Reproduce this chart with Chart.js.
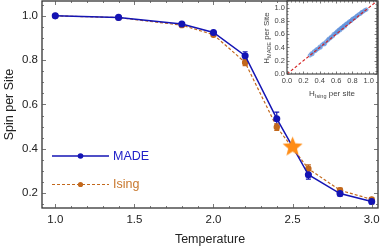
<!DOCTYPE html>
<html><head><meta charset="utf-8">
<script src="https://cdn.jsdelivr.net/npm/chart.js@4/dist/chart.umd.min.js"></script>
<style>
html,body{margin:0;padding:0;background:#fff;}
#wrap{position:relative;width:382px;height:249px;overflow:hidden;}
#main{position:absolute;left:0;top:0;}
#inset{position:absolute;left:250px;top:0;}
</style></head><body>
<div id="wrap"><canvas id="main" width="382" height="249"></canvas><canvas id="inset" width="132" height="100"></canvas></div>
<script>
// ---- data ----
const temperatures = [1.0, 1.4, 1.8, 2.0, 2.2, 2.4, 2.6, 2.8, 3.0];
const madeSpin  = [1.000, 0.993, 0.963, 0.925, 0.820, 0.536, 0.283, 0.198, 0.162];
const madeErr   = [0.002, 0.003, 0.005, 0.006, 0.018, 0.030, 0.020, 0.012, 0.010];
const isingSpin = [1.000, 0.992, 0.958, 0.915, 0.790, 0.498, 0.310, 0.213, 0.172];
const isingErr  = [0.002, 0.003, 0.005, 0.006, 0.015, 0.015, 0.018, 0.010, 0.008];
const criticalT = [2.5];
const criticalSpin = [0.408];
const xTicks = [1.0, 1.5, 2.0, 2.5, 3.0];
const yTicks = [0.2, 0.4, 0.6, 0.8, 1.0];
const seriesNames = ['MADE', 'Ising'];
// inset: energy per site, Ising vs MADE
const energyIsing = [0.28,0.30,0.31,0.33,0.35,0.36,0.38,0.40,0.41,0.43,0.45,0.46,0.48,0.50,0.51,0.53,0.54,0.56,0.57,0.59,0.60,0.61,0.62,0.63,0.64,0.65,0.66,0.67,0.68,0.69,0.70,0.71,0.72,0.73,0.75,0.76,0.78,0.79,0.80,0.82,0.83,0.85,0.86,0.88,0.90,0.91,0.93,0.95,0.97];
const energyMade  = [0.28,0.31,0.30,0.34,0.35,0.37,0.38,0.41,0.40,0.44,0.46,0.45,0.49,0.51,0.53,0.54,0.56,0.57,0.60,0.61,0.62,0.64,0.63,0.66,0.67,0.66,0.69,0.70,0.69,0.72,0.73,0.72,0.75,0.76,0.77,0.79,0.80,0.81,0.83,0.84,0.85,0.87,0.88,0.90,0.91,0.93,0.94,0.96,0.97];
const diagonal = [0, 1.1];
const insetTicks = [0.0, 0.2, 0.4, 0.6, 0.8, 1.0];

// ---- styles ----
const BLUE = '#1414b4', ORANGE = '#c2681c', STAR = '#ff8c14';
const FONT = "'Liberation Sans', Arial, sans-serif";

function makeStar(rOut, rIn, color){
  const s = Math.ceil(rOut*2+2);
  const c = document.createElement('canvas'); c.width = s; c.height = s;
  const g = c.getContext('2d'); g.fillStyle = color; g.beginPath();
  for (let i=0;i<10;i++){ const r = i%2 ? rIn : rOut; const a = -Math.PI/2 + i*Math.PI/5;
    g.lineTo(s/2 + r*Math.cos(a), s/2 + r*Math.sin(a)); }
  g.closePath(); g.fill(); return c;
}

const pts = (xs, ys) => xs.map((x,i)=>({x, y: ys[i]}));

const errorBars = {
  id: 'errorBars',
  beforeDatasetsDraw(chart){
    const {ctx, scales:{x, y}} = chart;
    chart.data.datasets.forEach(ds => {
      if (!ds.errors) return;
      ctx.save(); ctx.strokeStyle = ds.borderColor; ctx.lineWidth = 1.2;
      ds.data.forEach((p, i) => {
        const e = ds.errors[i]; const px = x.getPixelForValue(p.x);
        const y1 = y.getPixelForValue(p.y - e), y2 = y.getPixelForValue(p.y + e);
        if (Math.abs(y1-y2) < 3) return;
        ctx.beginPath(); ctx.moveTo(px, y1); ctx.lineTo(px, y2);
        ctx.moveTo(px-2.5, y1); ctx.lineTo(px+2.5, y1);
        ctx.moveTo(px-2.5, y2); ctx.lineTo(px+2.5, y2); ctx.stroke();
      });
      ctx.restore();
    });
  }
};

const frame = {
  id: 'frame',
  beforeDraw(chart, args, o){
    if (!o.fill) return;
    const {ctx, chartArea:a} = chart;
    ctx.save(); ctx.fillStyle = o.fill; ctx.fillRect(a.left, a.top, a.right-a.left, a.bottom-a.top); ctx.restore();
  },
  afterDraw(chart, args, o){
    const {ctx, chartArea:a, scales:{x, y}} = chart;
    ctx.save(); ctx.strokeStyle = o.color; ctx.lineWidth = o.width;
    ctx.strokeRect(a.left, a.top, a.right-a.left, a.bottom-a.top);
    ctx.lineWidth = 0.8; ctx.strokeStyle = o.tickColor;
    ctx.beginPath();
    const xMin = x.min, xMax = x.max, yMin = y.min, yMax = y.max;
    for (let k = Math.ceil(xMin/o.xMinor - 1e-6); k*o.xMinor <= xMax + 1e-9; k++){
      const v = k*o.xMinor; const major = Math.abs(v/o.xMajor - Math.round(v/o.xMajor)) < 1e-6;
      const L = major ? o.major : o.minor; const px = Math.round(x.getPixelForValue(v))+0.5;
      ctx.moveTo(px, a.bottom); ctx.lineTo(px, a.bottom - L);
      ctx.moveTo(px, a.top); ctx.lineTo(px, a.top + L);
    }
    for (let k = Math.ceil(yMin/o.yMinor - 1e-6); k*o.yMinor <= yMax + 1e-9; k++){
      const v = k*o.yMinor; const major = Math.abs(v/o.yMajor - Math.round(v/o.yMajor)) < 1e-6;
      const L = major ? o.major : o.minor; const py = Math.round(y.getPixelForValue(v))+0.5;
      ctx.moveTo(a.left, py); ctx.lineTo(a.left + L, py);
      ctx.moveTo(a.right, py); ctx.lineTo(a.right - L, py);
    }
    ctx.stroke(); ctx.restore();
  }
};

const legendBox = {
  id: 'legendBox',
  afterDraw(chart, args, o){
    const {ctx} = chart;
    chart.data.datasets.filter(d => d.label).forEach((ds, i) => {
      const yy = o.y + i*o.gap;
      ctx.save(); ctx.strokeStyle = ds.borderColor; ctx.lineWidth = ds.borderWidth;
      ctx.setLineDash(ds.borderDash || []);
      ctx.beginPath(); ctx.moveTo(o.x, yy); ctx.lineTo(o.x + o.len, yy); ctx.stroke();
      ctx.setLineDash([]); ctx.fillStyle = ds.borderColor;
      ctx.beginPath(); ctx.arc(o.x + o.len/2, yy, ds.pointRadius, 0, Math.PI*2); ctx.fill();
      ctx.fillStyle = ds.labelColor; ctx.font = '12.5px ' + FONT; ctx.textBaseline = 'middle';
      ctx.fillText(ds.label, o.x + o.len + 4, yy + 0.5);
      ctx.restore();
    });
  }
};

const fixedTicks = arr => (scale) => { scale.ticks = arr.map(v => ({value: v})); };
const noPad = s => { s.paddingLeft = s.paddingRight = s.paddingTop = s.paddingBottom = 0;
  s.getPadding = () => ({left: 0, top: 0, right: 0, bottom: 0}); };
const fitH = h => s => { s.height = h; noPad(s); };
const fitW = w => s => { s.width = w; noPad(s); };

new Chart(document.getElementById('main'), {
  type: 'scatter',
  data: { datasets: [
    { data: pts(criticalT, criticalSpin), pointStyle: makeStar(10.5, 4.6, STAR), pointRadius: 10, order: 0 },
    { label: seriesNames[0], labelColor: '#2020c8', data: pts(temperatures, madeSpin), errors: madeErr, showLine: true,
      borderColor: BLUE, backgroundColor: BLUE, borderWidth: 1.5, pointRadius: 2.8, order: 1 },
    { label: seriesNames[1], labelColor: '#c8772c', data: pts(temperatures, isingSpin), errors: isingErr, showLine: true,
      borderColor: ORANGE, backgroundColor: ORANGE, borderWidth: 1.2, borderDash: [3, 2], pointRadius: 2.6, order: 2 }
  ]},
  options: {
    responsive: false, animation: false, devicePixelRatio: 1,
    layout: { autoPadding: false, padding: { top: 1, right: 4, left: 0, bottom: 0 } },
    plugins: { legend: { display: false }, tooltip: { enabled: false },
      frame: { color: '#333', width: 1.3, tickColor: '#555', major: 4, minor: 2, xMajor: 0.5, xMinor: 0.1, yMajor: 0.2, yMinor: 0.05 },
      legendBox: { x: 52, y: 156, gap: 28.5, len: 57 } },
    scales: {
      x: { type: 'linear', min: 0.916, max: 3.04, afterBuildTicks: fixedTicks(xTicks),
        afterFit: fitH(41),
        grid: { display: false, drawTicks: false }, border: { display: false },
        ticks: { padding: 5, autoSkip: false, maxRotation: 0, color: '#222', font: { family: FONT, size: 11.5 }, callback: v => v.toFixed(1) },
        title: { display: true, text: 'Temperature', color: '#222', font: { family: FONT, size: 12.5 }, padding: 2 } },
      y: { type: 'linear', min: 0.133, max: 1.067, afterBuildTicks: fixedTicks(yTicks),
        afterFit: fitW(42),
        grid: { display: false, drawTicks: false }, border: { display: false },
        ticks: { padding: 4, autoSkip: false, color: '#222', font: { family: FONT, size: 11.5 }, callback: v => v.toFixed(1) },
        title: { display: true, text: 'Spin per Site', color: '#222', font: { family: FONT, size: 12.5 }, padding: 2 } }
    }
  },
  plugins: [errorBars, frame, legendBox]
});

const insetTitles = {
  id: 'insetTitles',
  afterDraw(chart){
    const {ctx} = chart;
    const draw = (parts, cx, cy, rot) => {
      ctx.save(); ctx.translate(cx, cy); ctx.rotate(rot); ctx.fillStyle = '#444'; ctx.textBaseline = 'alphabetic';
      let w = 0;
      parts.forEach(p => { ctx.font = p[1] + 'px ' + FONT; w += ctx.measureText(p[0]).width; });
      let xx = -w/2;
      parts.forEach(p => { ctx.font = p[1] + 'px ' + FONT; ctx.fillText(p[0], xx, 3 + p[2]); xx += ctx.measureText(p[0]).width; });
      ctx.restore();
    };
    draw([['H', 8, 0], ['Ising', 5.5, 2], [' per site', 8, 0]], 82, 93, 0);
    draw([['H', 8, 0], ['MADE', 5.5, 2], [' per Site', 8, 0]], 16, 38, -Math.PI/2);
  }
};

new Chart(document.getElementById('inset'), {
  type: 'scatter',
  data: { datasets: [
    { data: diagonal.map(v => ({x: v, y: v})), showLine: true, borderColor: '#d42020', borderWidth: 1.1,
      borderDash: [3, 2], pointRadius: 0, order: 0 },
    { data: pts(energyIsing, energyMade), backgroundColor: 'rgba(95,145,220,0.6)', borderColor: 'rgba(95,145,220,0.6)',
      pointRadius: 1.8, order: 1 }
  ]},
  options: {
    responsive: false, animation: false, devicePixelRatio: 1,
    layout: { autoPadding: false, padding: { top: 1, right: 5, left: 0, bottom: 0 } },
    plugins: { legend: { display: false }, tooltip: { enabled: false },
      frame: { fill: '#fff', color: '#222', width: 1, tickColor: '#555', major: 2.5, minor: 1.5, xMajor: 0.2, xMinor: 0.05, yMajor: 0.2, yMinor: 0.05 } },
    scales: {
      x: { type: 'linear', min: 0, max: 1.1, afterBuildTicks: fixedTicks(insetTicks), afterFit: fitH(26),
        grid: { display: false, drawTicks: false }, border: { display: false },
        ticks: { padding: 2, autoSkip: false, maxRotation: 0, color: '#444', font: { family: FONT, size: 7.5 }, callback: v => v.toFixed(1) } },
      y: { type: 'linear', min: 0, max: 1.1, afterBuildTicks: fixedTicks(insetTicks), afterFit: fitW(37),
        grid: { display: false, drawTicks: false }, border: { display: false },
        ticks: { padding: 2, autoSkip: false, color: '#444', font: { family: FONT, size: 7.5 }, callback: v => v.toFixed(1) } }
    }
  },
  plugins: [frame, insetTitles]
});
</script>
</body></html>
